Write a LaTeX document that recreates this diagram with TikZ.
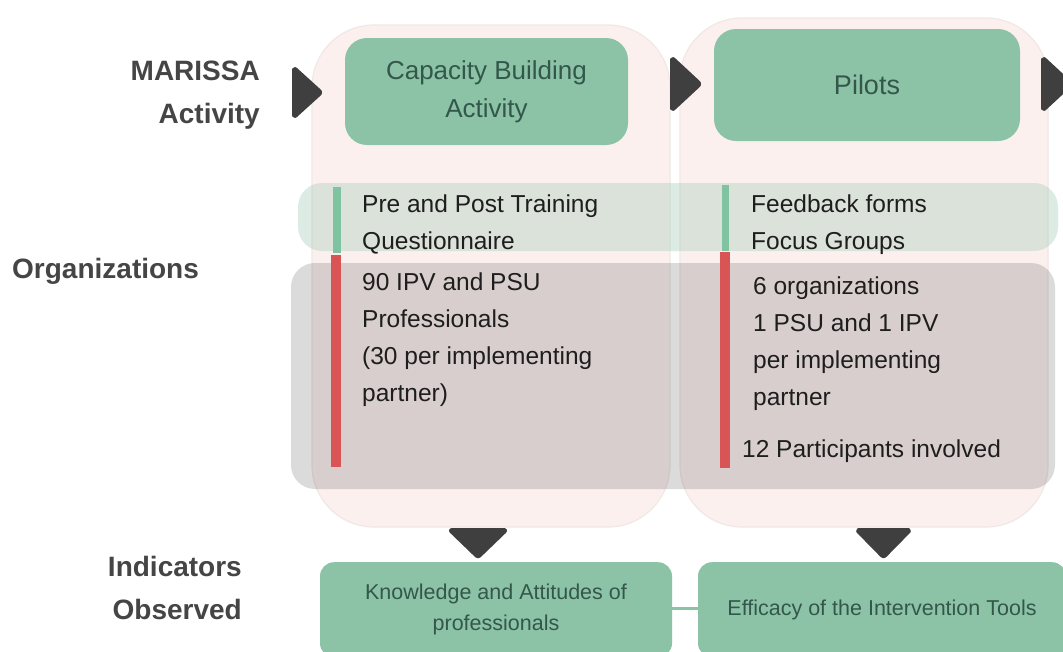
\documentclass[tikz,border=0pt]{standalone}
\usepackage{fontspec}
\setmainfont{Liberation Sans}
\definecolor{colpink}{HTML}{FCF0EF}
\definecolor{colrim}{HTML}{F0E8E6}
\definecolor{boxgreen}{HTML}{8CC3A7}
\definecolor{boxtext}{HTML}{33574A}
\definecolor{tridark}{HTML}{3F3F3F}
\definecolor{barred}{HTML}{D95555}
\definecolor{bargreen}{HTML}{7FC3A0}
\definecolor{bodytext}{HTML}{1E1E1E}
\definecolor{labeltext}{HTML}{454545}
\begin{document}
\begin{tikzpicture}[x=1pt,y=-1pt,
  column/.style={fill=colpink,draw=colrim,line width=1.2pt,rounded corners=62pt},
  band/.style={rounded corners=24pt},
  topbox/.style={fill=boxgreen,rounded corners=22pt,text=boxtext,align=center,
    font=\fontsize{26}{38}\selectfont,inner sep=0pt},
  botbox/.style={fill=boxgreen,rounded corners=14pt,text=boxtext,align=center,
    font=\fontsize{21.5}{31}\selectfont,inner sep=0pt},
  rowlabel/.style={text=labeltext,font=\fontsize{28}{43}\bfseries\selectfont,inner sep=0pt},
  bodyblock/.style={text=bodytext,align=left,anchor=west,inner sep=0pt,
    font=\fontsize{24.5}{37}\selectfont},
  pointer/.style={fill=tridark,draw=tridark,line width=4pt,line join=round,rounded corners=2pt},
  link/.style={draw=boxgreen,line width=3pt}]
\useasboundingbox (0,0) rectangle (1063,651);
\clip (0,0) rectangle (1063,651);
\fill[white] (0,0) rectangle (1063,651);

% the two activity columns
\draw[column] (312,25) rectangle (670,527);
\draw[column] (680,18) rectangle (1048,527);

% horizontal bands: methods (green) and organizations (grey)
\fill[band,fill=boxgreen,opacity=0.3] (298,183) rectangle (1058,251);
\fill[band,fill=black,opacity=0.14] (291,263) rectangle (1055,489);

% vertical marker bars
\fill[bargreen] (333,187) rectangle (341,253);
\fill[barred]   (331,255) rectangle (341,467);
\fill[bargreen] (722,185) rectangle (729,251);
\fill[barred]   (720,252) rectangle (730,468);

% row labels
\node[rowlabel,anchor=east,align=right] (lblact) at (260,95) {MARISSA\\Activity};
\node[rowlabel,anchor=west] (lblorg) at (12,271) {Organizations};
\node[rowlabel,anchor=east,align=right] (lblind) at (242,588) {Indicators\\Observed};

% activities
\node[topbox,minimum width=283pt,minimum height=107pt] (cba) at (486.5,91.5)
  {Capacity Building\\Activity};
\node[topbox,minimum width=306pt,minimum height=112pt] (pil) at (867,85)
  {\fontsize{27}{38}\selectfont Pilots};

% methods and participants
\node[bodyblock] (m1) at (362,224) {Pre and Post Training\\Questionnaire};
\node[bodyblock] (p1) at (362,340) {90 IPV and PSU\\Professionals\\(30 per implementing\\partner)};
\node[bodyblock] (m2) at (751,225) {Feedback forms\\Focus Groups};
\node[bodyblock] (p2) at (753,343.5) {6 organizations\\1 PSU and 1 IPV\\per implementing\\partner};
\node[bodyblock] (p3) at (742,451) {12 Participants involved};

% indicators (boxes run past the lower edge)
\node[botbox,minimum width=352pt,minimum height=95pt,anchor=north] (ind1) at (496,562)
  {Knowledge and Attitudes of\\professionals};
\node[botbox,minimum width=368pt,minimum height=95pt,anchor=north] (ind2) at (882,562)
  {Efficacy of the Intervention Tools};
\draw[link] (ind1.east |- 0,608) -- (ind2.west |- 0,608);

% flow pointers
\path[pointer] (294,68) -- (321,92.5) -- (294,117) -- cycle;
\path[pointer] (672,58) -- (700,84) -- (672,110) -- cycle;
\path[pointer] (1043,58) -- (1071,84) -- (1043,110) -- cycle;
\path[pointer] (450,530) -- (506,530) -- (478,557) -- cycle;
\path[pointer] (857,530) -- (910,530) -- (883.5,557) -- cycle;
\end{tikzpicture}
\end{document}
